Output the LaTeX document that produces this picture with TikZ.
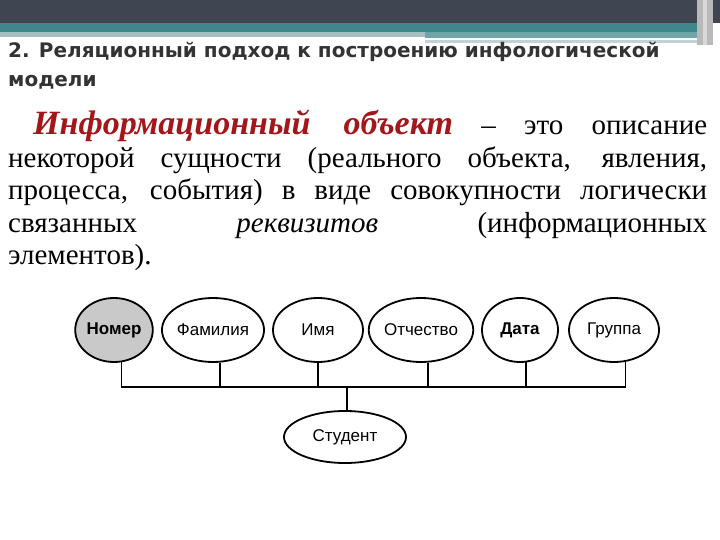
\documentclass[tikz,border=0pt]{standalone}
\usepackage{fontspec}
\setmainfont{Liberation Serif}
\setsansfont{Liberation Sans}
\newfontfamily\titlefont{DejaVu Sans}
\usetikzlibrary{shapes.geometric}
\definecolor{banddark}{HTML}{404552}
\definecolor{bandteal}{HTML}{3F878C}
\definecolor{bandlight}{HTML}{A5BEC2}
\definecolor{termred}{HTML}{A3161A}
\definecolor{keyfill}{HTML}{C9C9C9}
\begin{document}
\begin{tikzpicture}[x=1pt,y=-1pt,
    attribute/.style ={ellipse, draw, line width=1.8pt, inner sep=0pt,
      minimum height=64pt, font=\sffamily\fontsize{17}{19}\selectfont},
    entity/.style ={ellipse, draw, line width=1.8pt, inner sep=0pt,
      minimum width=122pt, minimum height=52pt, font=\sffamily\fontsize{17}{19}\selectfont}]
   \useasboundingbox (0,0) rectangle (720,540);
   % slide header
   \fill[banddark] (0,0) rectangle (720,23);
   \fill[bandteal] (0,23) rectangle (697,32);
   \fill[bandlight] (0,32) rectangle (425,37);
   \fill[bandteal!75!white] (425,32) rectangle (697,38);
   \fill[white] (425,38) rectangle (667,40);
   \fill[bandlight!70!white] (425,40) rectangle (697,43);
   \fill[gray!55] (697,0) rectangle (713,45);
   \fill[gray!30] (703,0) rectangle (707,45);

   \node[anchor=base west, inner sep=0pt, text=black!80, font=\titlefont\bfseries\fontsize{20}{24}\selectfont] (title1) at (8,58) {2. Реляционный подход к построению инфологической};
   \node[anchor=base west, inner sep=0pt, text=black!80, font=\titlefont\bfseries\fontsize{20}{24}\selectfont] (title2) at (8,87) {модели};

   \node[anchor=north west, inner sep=0pt, text width=699pt, align=justify,
     font=\fontsize{29}{32.5}\selectfont] (definition) at (8,110)
     {\hspace*{25pt}\textcolor{termred}{\fontsize{34}{32.5}\selectfont\textbf{\textit{Информационный объект}}} – это описание\linebreak
      некоторой сущности (реального объекта, явления,\linebreak
      процесса, события) в виде совокупности логически\linebreak
      связанных \textit{реквизитов} (информационных\linebreak
      элементов).};

   \node[attribute, minimum width=76pt, fill=keyfill, font=\sffamily\bfseries\fontsize{17}{19}\selectfont] (nomer) at (114,330) {Номер};
   \node[attribute, minimum width=98pt] (familiya) at (213,330) {Фамилия};
   \node[attribute, minimum width=90pt] (imya) at (318,330) {Имя};
   \node[attribute, minimum width=96pt] (otchestvo) at (421,330) {Отчество};
   \node[attribute, minimum width=76pt, font=\sffamily\bfseries\fontsize{17}{19}\selectfont] (data) at (520,330) {Дата};
   \node[attribute, minimum width=90pt] (gruppa) at (614,330) {Группа};
   \node[entity] (student) at (345,437) {Студент};
   \coordinate (bus) at (347,387);

   \draw[line width=1.8pt] (nomer.-77) |- (bus);
   \draw[line width=1.8pt] (familiya.-78) |- (bus);
   \draw[line width=1.8pt] (imya.south) |- (bus);
   \draw[line width=1.8pt] (otchestvo.-78) |- (bus);
   \draw[line width=1.8pt] (data.-79) |- (bus);
   \draw[line width=1.8pt] (gruppa.-70) |- (bus);
   \draw[line width=1.8pt] (bus) -- (student.north -| bus);
 \end{tikzpicture}
\end{document}
